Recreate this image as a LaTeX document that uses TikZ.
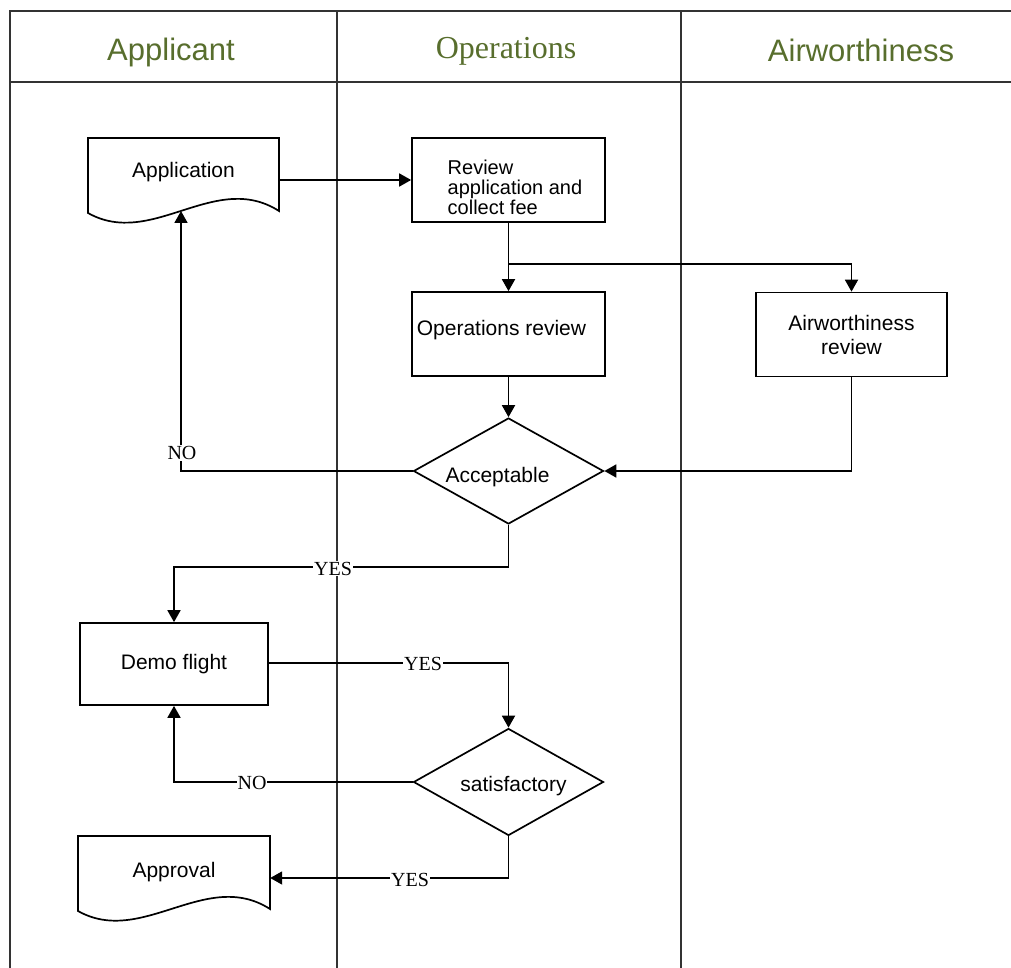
\documentclass[tikz,border=0pt]{standalone}
\usepackage{fontspec}
\setmainfont{Liberation Serif}
\newfontfamily\arial{Liberation Sans}
\usetikzlibrary{shapes.geometric,arrows.meta}
\definecolor{hdrgreen}{RGB}{88,110,45}
\tikzset{
  lane/.style={line width=1.7pt, draw=black!80},
  hdr/.style={text=hdrgreen, anchor=base, font=\arial\fontsize{31}{34}\selectfont},
  hdrserif/.style={text=hdrgreen, anchor=base, font=\fontsize{32}{34}\selectfont},
  procbox/.style={draw, line width=1.7pt, rectangle, inner sep=0pt, font=\arial\fontsize{21}{24}\selectfont},
  docbox/.style={rectangle, inner sep=0pt, font=\arial\fontsize{21}{24}\selectfont},
  docline/.style={line width=1.7pt, line join=miter},
  decision/.style={draw, line width=1.7pt, diamond, aspect=1.79, inner sep=0pt, font=\arial\fontsize{21}{24}\selectfont},
  arr/.style={line width=1.8pt, -{Triangle[length=12pt,width=13pt]}},
  lbl/.style={fill=white, inner sep=1pt, font=\fontsize{20}{22}\selectfont},
}
\begin{document}
\begin{tikzpicture}[x=1pt,y=-1pt]
\useasboundingbox (0,0) rectangle (1011,968);
% swimlane frame
\draw[lane] (1011,11) -- (10,11) -- (10,968);
\draw[lane] (10,82) -- (1011,82);
\draw[lane] (337,11) -- (337,968);
\draw[lane] (681,11) -- (681,968);
\node[hdr] (hA) at (171,60.5) {Applicant};
\node[hdrserif] (hO) at (506,59) {Operations};
\node[hdr] (hW) at (861,61.5) {Airworthiness};

% document: Application
\node[docbox, minimum width=191pt, minimum height=75pt] (app) at (183.5,175.5) {\raisebox{-2pt}[0pt][0pt]{Application}};
\draw[docline] (88,213) -- (88,138) -- (279,138) -- (279,211)
  .. controls (215,170) and (152,249) .. (88,213) -- cycle;
% process boxes
\node[procbox, minimum width=193pt, minimum height=84pt] (rev) at (508.5,180)
  {\raisebox{-15pt}[0pt][0pt]{\fontsize{20}{19}\selectfont\begin{tabular}{@{}l@{}}Review\\application and\\collect fee\end{tabular}}\hspace*{-13pt}};
\node[procbox, minimum width=193pt, minimum height=84pt] (ops) at (508.5,334) {\raisebox{-1.5pt}[0pt][0pt]{Operations review}\hspace*{14pt}};
\node[procbox, minimum width=191pt, minimum height=84pt, align=center] (air) at (851.5,334.5) {Airworthiness\\review};
\node[decision, minimum width=190pt, minimum height=106pt] (acc) at (508.5,471) {\raisebox{-11.5pt}[0pt][0pt]{Acceptable}\hspace*{22pt}};
\node[procbox, minimum width=188pt, minimum height=82pt] (demo) at (174,664) {Demo flight};
\node[decision, minimum width=190pt, minimum height=107pt] (sat) at (508.5,782) {\hspace*{10pt}\raisebox{-9.5pt}[0pt][0pt]{satisfactory}};
% document: Approval
\node[docbox, minimum width=192pt, minimum height=75pt] (appr) at (174,873.5) {\raisebox{-4pt}[0pt][0pt]{Approval}};
\draw[docline] (78,911) -- (78,836) -- (270,836) -- (270,909)
  .. controls (206,868) and (142,947) .. (78,911) -- cycle;

% connectors
\draw[arr] (app.east |- rev.west) -- (rev.west);
\draw[arr] (rev.south) -- (ops.north);
\coordinate (split) at (508.5,264);
\draw[arr] (split) -| (air.north);
\draw[arr] (ops.south) -- (acc.north);
\draw[arr] (air.south) |- (acc.east);
\coordinate (noA) at (181,471);
\coordinate (appbot) at (181,211);
\draw[arr] (acc.west) -- (noA) -- (appbot);
\node[lbl] (lNO1) at (182,453) {NO};
\coordinate (yesA) at (508.5,567);
\draw[arr] (acc.south) -- (yesA) -| (demo.north);
\node[lbl] (lYES1) at (333,568.5) {YES};
\coordinate (yesB) at (508.5,663);
\draw[arr] (demo.east |- yesB) -- (yesB) -- (sat.north);
\node[lbl] (lYES2) at (423,664) {YES};
\draw[arr] (sat.west) -| (demo.south);
\node[lbl] (lNO2) at (252,782.5) {NO};
\coordinate (yesC) at (508.5,878);
\draw[arr] (sat.south) -- (yesC) -- (appr.east |- yesC);
\node[lbl] (lYES3) at (410,880) {YES};
\end{tikzpicture}
\end{document}
